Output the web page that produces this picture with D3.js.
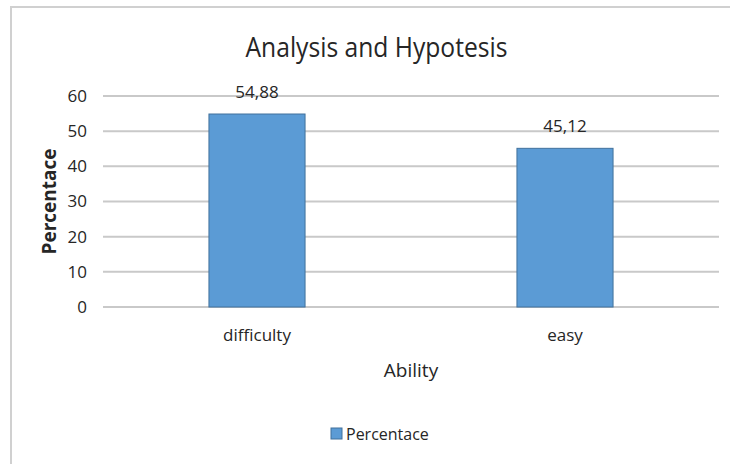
<!DOCTYPE html>
<html>
<head>
<meta charset="utf-8">
<script src="https://cdn.jsdelivr.net/npm/d3@7"></script>
<style>
  html, body { margin: 0; padding: 0; background: #ffffff; }
  svg { display: block; }
  text { font-family: "Open Sans", sans-serif; fill: #262626; }
</style>
</head>
<body>
<svg id="chart" width="730" height="464"></svg>
<script>
const categories = ["difficulty", "easy"];
const seriesName = "Percentace";
const values = [54.88, 45.12];
const valueLabels = ["54,88", "45,12"];
const yTicks = [0, 10, 20, 30, 40, 50, 60];
const chartTitle = "Analysis and Hypotesis";
const xTitle = "Ability";
const yTitle = "Percentace";

const svg = d3.select("#chart");
const W = 730, H = 464;
const plot = { left: 103, right: 719, top: 96, bottom: 307 };

// chart frame
svg.append("path")
  .attr("d", `M11,${H} L11,7 L${W},7`)
  .attr("fill", "none")
  .attr("stroke", "#d0d0d0")
  .attr("stroke-width", 2);

const x = d3.scaleBand()
  .domain(categories)
  .range([plot.left, plot.right])
  .paddingInner(0.688)
  .paddingOuter(0.344);

const y = d3.scaleLinear()
  .domain([0, 60])
  .range([plot.bottom, plot.top]);

// gridlines
svg.append("g")
  .selectAll("line")
  .data(yTicks)
  .join("line")
  .attr("x1", plot.left)
  .attr("x2", plot.right)
  .attr("y1", d => y(d))
  .attr("y2", d => y(d))
  .attr("stroke", "#c9c9c9")
  .attr("stroke-width", 2);

// y axis labels
const yAxis = d3.axisLeft(y).tickValues(yTicks).tickSize(0).tickPadding(0);
const yg = svg.append("g")
  .attr("transform", `translate(${plot.left - 16},0)`)
  .call(yAxis);
yg.select(".domain").remove();
yg.selectAll("text")
  .attr("font-size", 17)
  .attr("fill", "#262626")
  .style("font-family", "'Open Sans', sans-serif");

// bars
svg.append("g")
  .selectAll("rect")
  .data(values)
  .join("rect")
  .attr("x", (d, i) => x(categories[i]))
  .attr("width", x.bandwidth())
  .attr("y", d => y(d))
  .attr("height", d => y(0) - y(d))
  .attr("fill", "#5b9bd5")
  .attr("stroke", "#41719c")
  .attr("stroke-width", 1);

// value labels
svg.append("g")
  .selectAll("text")
  .data(values)
  .join("text")
  .attr("x", (d, i) => x(categories[i]) + x.bandwidth() / 2)
  .attr("y", d => y(d) - 16)
  .attr("text-anchor", "middle")
  .attr("font-size", 17)
  .text((d, i) => valueLabels[i]);

// x axis labels
const xAxis = d3.axisBottom(x).tickSize(0).tickPadding(0);
const xg = svg.append("g")
  .attr("transform", `translate(0,${plot.bottom + 22})`)
  .call(xAxis);
xg.select(".domain").remove();
xg.selectAll("text")
  .attr("font-size", 17)
  .attr("fill", "#262626")
  .style("font-family", "'Open Sans', sans-serif");

// title (slightly condensed to mimic the narrow original face)
svg.append("text")
  .attr("transform", "translate(376.5,57) scale(0.88,1)")
  .attr("text-anchor", "middle")
  .attr("font-size", 28)
  .text(chartTitle);

// x title
svg.append("text")
  .attr("x", (plot.left + plot.right) / 2)
  .attr("y", 377)
  .attr("text-anchor", "middle")
  .attr("font-size", 19)
  .text(xTitle);

// y title
svg.append("text")
  .attr("transform", `translate(56,${(plot.top + plot.bottom) / 2}) rotate(-90)`)
  .attr("text-anchor", "middle")
  .attr("font-size", 19)
  .attr("font-weight", "bold")
  .text(yTitle);

// legend
const lg = svg.append("g");
lg.append("rect")
  .attr("x", 331).attr("y", 428)
  .attr("width", 11).attr("height", 11)
  .attr("fill", "#5b9bd5")
  .attr("stroke", "#41719c")
  .attr("stroke-width", 1);
lg.append("text")
  .attr("x", 346).attr("y", 439.5)
  .attr("font-size", 16)
  .text(seriesName);
</script>
</body>
</html>
